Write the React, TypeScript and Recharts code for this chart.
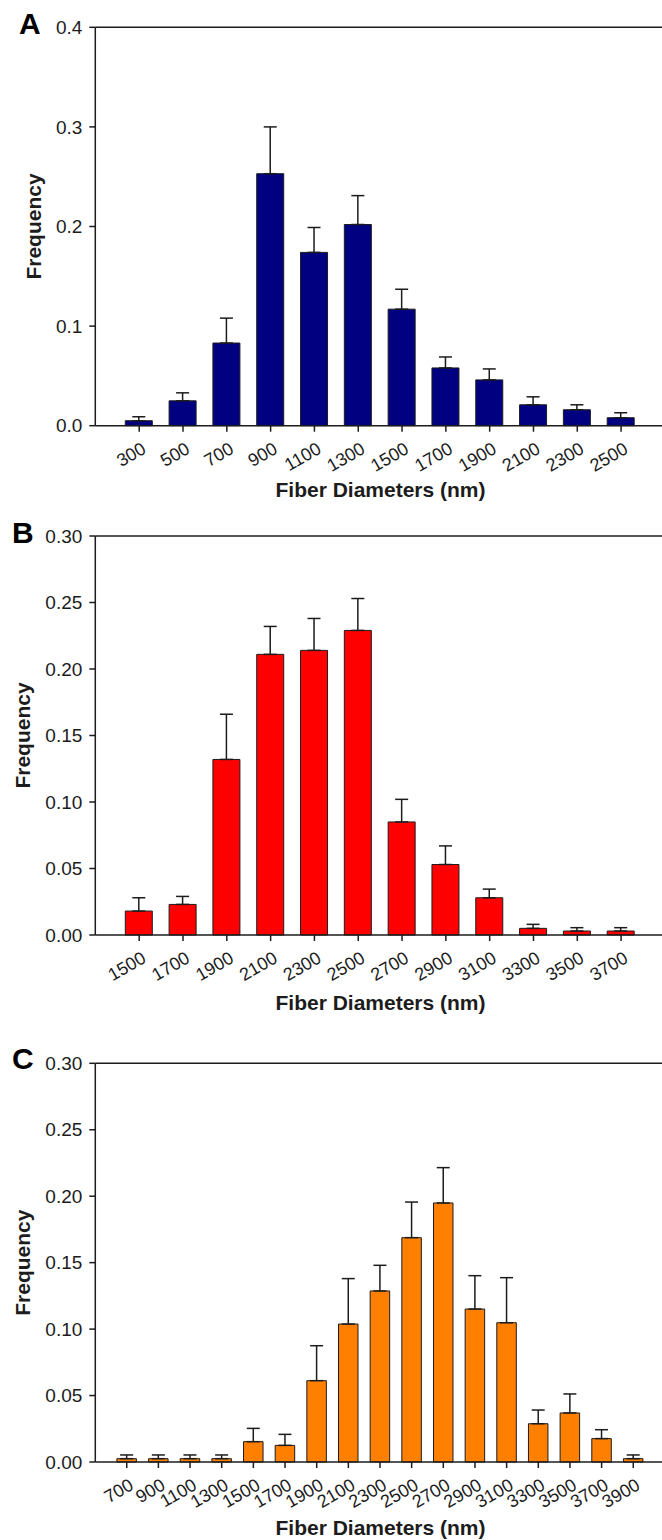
import React from 'react';
import { BarChart, Bar, XAxis, YAxis, ErrorBar, ReferenceLine, Label } from 'recharts';

// Panel A
const diametersA = ['300', '500', '700', '900', '1100', '1300', '1500', '1700', '1900', '2100', '2300', '2500'];
const freqA = [0.005, 0.025, 0.083, 0.253, 0.174, 0.202, 0.117, 0.058, 0.046, 0.021, 0.016, 0.008];
const errA = [0.004, 0.008, 0.025, 0.047, 0.025, 0.029, 0.020, 0.011, 0.011, 0.008, 0.005, 0.005];
const ticksA = [0, 0.1, 0.2, 0.3, 0.4];

// Panel B
const diametersB = ['1500', '1700', '1900', '2100', '2300', '2500', '2700', '2900', '3100', '3300', '3500', '3700'];
const freqB = [0.018, 0.023, 0.132, 0.211, 0.214, 0.229, 0.085, 0.053, 0.028, 0.005, 0.003, 0.003];
const errB = [0.010, 0.006, 0.034, 0.021, 0.024, 0.024, 0.017, 0.014, 0.0065, 0.003, 0.0025, 0.0025];
const ticksB = [0, 0.05, 0.1, 0.15, 0.2, 0.25, 0.3];

// Panel C
const diametersC = ['700', '900', '1100', '1300', '1500', '1700', '1900', '2100', '2300', '2500', '2700', '2900', '3100', '3300', '3500', '3700', '3900'];
const freqC = [0.0025, 0.0025, 0.0025, 0.0025, 0.0153, 0.0125, 0.0612, 0.1038, 0.1287, 0.1688, 0.1949, 0.1151, 0.1048, 0.0288, 0.0369, 0.0176, 0.0025];
const errC = [0.0028, 0.0028, 0.0028, 0.0028, 0.010, 0.0083, 0.0263, 0.0342, 0.0193, 0.0268, 0.0266, 0.0251, 0.0339, 0.0103, 0.0143, 0.0067, 0.0028];
const ticksC = [0, 0.05, 0.1, 0.15, 0.2, 0.25, 0.3];

const FONT = '"Liberation Sans", Arial, Helvetica, sans-serif';
const INK = '#1c1c1c';

type PanelProps = {
  top: number;
  height: number;
  plotTop: number;
  axisY: number;
  titleBaseline: number;
  letter: string;
  letterX: number;
  letterBaseline: number;
  freqX: number;
  cats: string[];
  vals: number[];
  errs: number[];
  ticks: number[];
  decimals: number;
  color: string;
  barSize: number;
  capHalf: number;
  padL: number;
  padR: number;
};

const XTick = (props: any) => {
  const { x, y, payload } = props;
  const tx = x + 8;
  const ty = y + 20.5;
  return (
    <text
      x={tx}
      y={ty}
      textAnchor="end"
      fontSize={18}
      fontFamily={FONT}
      fill={INK}
      transform={`rotate(-30, ${tx}, ${ty})`}
    >
      {payload.value}
    </text>
  );
};

function Panel(p: PanelProps) {
  const data = p.cats.map((c, i) => ({ cat: c, v: p.vals[i], e: [0, p.errs[i]] }));
  const yMax = p.ticks[p.ticks.length - 1];
  const marginTop = p.plotTop - p.top;
  const xAxisHeight = p.top + p.height - p.axisY;
  const midY = (p.plotTop + p.axisY) / 2 - p.top;
  return (
    <div style={{ position: 'absolute', left: 0, top: p.top, width: 662, height: p.height }}>
      <BarChart
        width={662}
        height={p.height}
        data={data}
        margin={{ top: marginTop, right: 0, bottom: 0, left: 0 }}
        barCategoryGap={0}
      >
        <YAxis
          type="number"
          domain={[0, yMax]}
          ticks={p.ticks}
          interval={0}
          width={95.3}
          tickFormatter={(v: number) => v.toFixed(p.decimals)}
          axisLine={{ stroke: INK, strokeWidth: 1.5 }}
          tickLine={{ stroke: INK, strokeWidth: 1.5 }}
          tickSize={6}
          tickMargin={7}
          tick={{ fill: INK, fontSize: 19, fontFamily: FONT }}
        >
          <Label
            content={() => (
              <g>
                <text
                  x={p.freqX}
                  y={midY}
                  textAnchor="middle"
                  fontSize={21}
                  fontWeight="bold"
                  fontFamily={FONT}
                  fill={INK}
                  transform={`rotate(-90, ${p.freqX}, ${midY})`}
                >
                  Frequency
                </text>
                <text
                  x={p.letterX}
                  y={p.letterBaseline - p.top}
                  fontSize={30}
                  fontWeight="bold"
                  fontFamily={FONT}
                  fill="#000"
                >
                  {p.letter}
                </text>
              </g>
            )}
          />
        </YAxis>
        <XAxis
          dataKey="cat"
          type="category"
          interval={0}
          height={xAxisHeight}
          padding={{ left: p.padL, right: p.padR }}
          axisLine={{ stroke: INK, strokeWidth: 1.5 }}
          tickLine={{ stroke: INK, strokeWidth: 1.5 }}
          tickSize={6}
          tickMargin={0}
          tick={<XTick />}
        >
          <Label
            content={() => (
              <text
                x={380.5}
                y={p.titleBaseline - p.top}
                textAnchor="middle"
                fontSize={21}
                fontWeight="bold"
                fontFamily={FONT}
                fill={INK}
              >
                Fiber Diameters (nm)
              </text>
            )}
          />
        </XAxis>
        <ReferenceLine y={yMax} stroke={INK} strokeWidth={1.5} ifOverflow="visible" />
        <Bar
          dataKey="v"
          fill={p.color}
          stroke={INK}
          strokeWidth={1}
          barSize={p.barSize}
          isAnimationActive={false}
        >
          <ErrorBar dataKey="e" direction="y" width={p.capHalf} stroke={INK} strokeWidth={1.5} />
        </Bar>
      </BarChart>
    </div>
  );
}

export default function App() {
  return (
    <div style={{ position: 'absolute', left: 0, top: 0, width: 662, height: 1540, overflow: 'hidden', background: '#fff' }}>
      <Panel
        top={0}
        height={510}
        plotTop={27.3}
        axisY={425.7}
        titleBaseline={497}
        letter="A"
        letterX={19}
        letterBaseline={34}
        freqX={40.5}
        cats={diametersA}
        vals={freqA}
        errs={errA}
        ticks={ticksA}
        decimals={1}
        color="#000080"
        barSize={27}
        capHalf={6.5}
        padL={22}
        padR={19}
      />
      <Panel
        top={510}
        height={520}
        plotTop={536}
        axisY={935}
        titleBaseline={1010}
        letter="B"
        letterX={12}
        letterBaseline={543}
        freqX={29.5}
        cats={diametersB}
        vals={freqB}
        errs={errB}
        ticks={ticksB}
        decimals={2}
        color="#ff0000"
        barSize={27}
        capHalf={6.5}
        padL={22}
        padR={19}
      />
      <Panel
        top={1030}
        height={510}
        plotTop={1063.3}
        axisY={1462}
        titleBaseline={1535}
        letter="C"
        letterX={12}
        letterBaseline={1069}
        freqX={30}
        cats={diametersC}
        vals={freqC}
        errs={errC}
        ticks={ticksC}
        decimals={2}
        color="#ff8000"
        barSize={19.5}
        capHalf={6.5}
        padL={15.6}
        padR={12.9}
      />
    </div>
  );
}
